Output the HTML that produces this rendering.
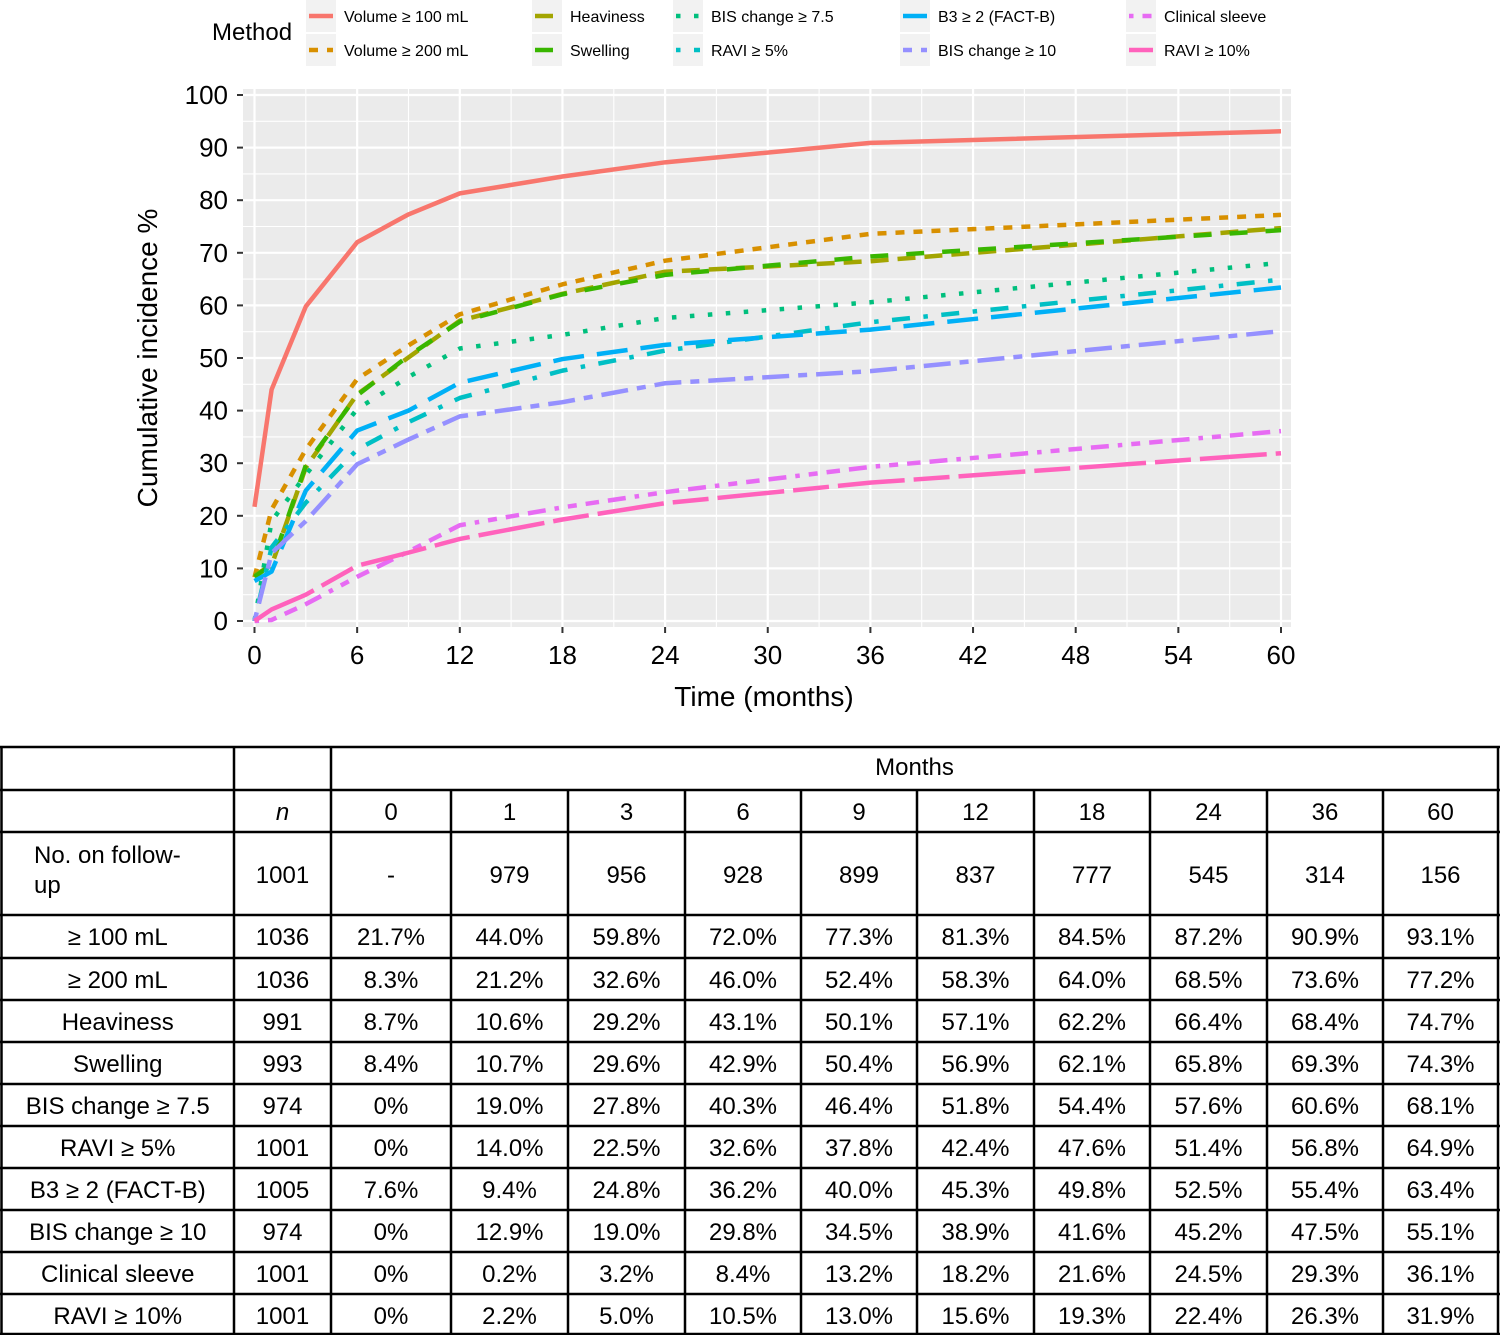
<!DOCTYPE html>
<html><head><meta charset="utf-8"><style>
html,body{margin:0;padding:0;background:#fff;}
svg text{font-family:"Liberation Sans",sans-serif;}
</style></head><body>
<svg id="chart" width="1500" height="1335" viewBox="0 0 1500 1335" xmlns="http://www.w3.org/2000/svg">
<g id="legend"></g>
<rect x="243" y="89" width="1048" height="538" fill="#ebebeb"/>
<g id="grid"></g>
<g id="axes"></g>
<g id="series"></g>
<g id="table"></g>
</svg>
<script>
const months = [0,1,3,6,9,12,18,24,36,60];
const methods = ["Volume ≥ 100 mL","Volume ≥ 200 mL","Heaviness","Swelling","BIS change ≥ 7.5","RAVI ≥ 5%","B3 ≥ 2 (FACT-B)","BIS change ≥ 10","Clinical sleeve","RAVI ≥ 10%"];
const rowLabels = ["≥ 100 mL","≥ 200 mL","Heaviness","Swelling","BIS change ≥ 7.5","RAVI ≥ 5%","B3 ≥ 2 (FACT-B)","BIS change ≥ 10","Clinical sleeve","RAVI ≥ 10%"];
const nValues = [1036,1036,991,993,974,1001,1005,974,1001,1001];
const followUp = ["-",979,956,928,899,837,777,545,314,156];
const vol100 = [21.7,44.0,59.8,72.0,77.3,81.3,84.5,87.2,90.9,93.1];
const vol200 = [8.3,21.2,32.6,46.0,52.4,58.3,64.0,68.5,73.6,77.2];
const heaviness = [8.7,10.6,29.2,43.1,50.1,57.1,62.2,66.4,68.4,74.7];
const swelling = [8.4,10.7,29.6,42.9,50.4,56.9,62.1,65.8,69.3,74.3];
const bis75 = [0,19.0,27.8,40.3,46.4,51.8,54.4,57.6,60.6,68.1];
const ravi5 = [0,14.0,22.5,32.6,37.8,42.4,47.6,51.4,56.8,64.9];
const b3 = [7.6,9.4,24.8,36.2,40.0,45.3,49.8,52.5,55.4,63.4];
const bis10 = [0,12.9,19.0,29.8,34.5,38.9,41.6,45.2,47.5,55.1];
const sleeve = [0,0.2,3.2,8.4,13.2,18.2,21.6,24.5,29.3,36.1];
const ravi10 = [0,2.2,5.0,10.5,13.0,15.6,19.3,22.4,26.3,31.9];
const seriesValues = [vol100,vol200,heaviness,swelling,bis75,ravi5,b3,bis10,sleeve,ravi10];
const xTicks = [0,6,12,18,24,30,36,42,48,54,60];
const yTicks = [0,10,20,30,40,50,60,70,80,90,100];

const colors = ["#F8766D","#D89000","#A3A500","#39B600","#00BF7D","#00BFC4","#00B0F6","#9590FF","#E76BF3","#FF62BC"];
const dashes = ["","9 9","18 9","18 18","4.5 13.5","4.5 13.5 18 13.5","31 13","9 9 27 9","4.5 9 9 9 13.5 9 18 9","67 9 36 9"];
const keys = ["vol100","vol200","heaviness","swelling","bis75","ravi5","b3","bis10","sleeve","ravi10"];

const NS="http://www.w3.org/2000/svg";
function mk(tag, attrs, parent, text){const e=document.createElementNS(NS,tag);for(const k in attrs)e.setAttribute(k,attrs[k]);if(text!==undefined)e.textContent=text;parent.appendChild(e);return e;}
const X = m => 254.5 + m*(1281-254.5)/60;
const Y = v => 621 - v*(621-95)/100;

const grid=document.getElementById('grid');
for(let i=0;i<xTicks.length;i++){
  mk('line',{x1:X(xTicks[i]),x2:X(xTicks[i]),y1:89,y2:627,stroke:'#fff','stroke-width':2.2},grid);
  if(i<xTicks.length-1){const m=(xTicks[i]+xTicks[i+1])/2;mk('line',{x1:X(m),x2:X(m),y1:89,y2:627,stroke:'#fff','stroke-width':1.1},grid);}
}
for(let i=0;i<yTicks.length;i++){
  mk('line',{x1:243,x2:1291,y1:Y(yTicks[i]),y2:Y(yTicks[i]),stroke:'#fff','stroke-width':2.2},grid);
  if(i<yTicks.length-1){const v=(yTicks[i]+yTicks[i+1])/2;mk('line',{x1:243,x2:1291,y1:Y(v),y2:Y(v),stroke:'#fff','stroke-width':1.1},grid);}
}
const axes=document.getElementById('axes');
xTicks.forEach(t=>{
  mk('line',{x1:X(t),x2:X(t),y1:627,y2:633,stroke:'#333','stroke-width':2},axes);
  const e=mk('text',{x:X(t),y:664,'text-anchor':'middle','font-size':26,fill:'#000'},axes,t);
  
  
});
yTicks.forEach(t=>{
  mk('line',{x1:237,x2:243,y1:Y(t),y2:Y(t),stroke:'#333','stroke-width':2},axes);
  const e=mk('text',{x:228,y:Y(t)+9,'text-anchor':'end','font-size':26,fill:'#000'},axes,t);
  
  
});
let xt=mk('text',{x:764,y:706,'text-anchor':'middle','font-size':28,fill:'#000'},axes,'Time (months)');


let yt=mk('text',{x:157,y:358,'text-anchor':'middle','font-size':28,fill:'#000',transform:'rotate(-90 157 358)'},axes,'Cumulative incidence %');



const sg=document.getElementById('series');
seriesValues.forEach((vals,i)=>{
  const pts=vals.map((v,j)=>X(months[j])+','+Y(v)).join(' ');
  const a={points:pts,fill:'none',stroke:colors[i],'stroke-width':4.5,'stroke-linejoin':'round'};
  if(dashes[i])a['stroke-dasharray']=dashes[i];
  const p=mk('polyline',a,sg);
  
  
});

// legend
const lg=document.getElementById('legend');
mk('text',{x:212,y:40,'font-size':24,fill:'#000'},lg,'Method');
const legX=[306,532,673,900,1126];
methods.forEach((m,i)=>{
  const col=Math.floor(i/2), row=i%2;
  const x=legX[col], y=row?34:0;
  mk('rect',{x:x,y:y,width:30,height:32,fill:'#f2f2f2'},lg);
  const a={x1:x+3,x2:x+27,y1:y+16,y2:y+16,stroke:colors[i],'stroke-width':4.5};
  if(dashes[i])a['stroke-dasharray']=dashes[i];
  mk('line',a,lg);
  const t=mk('text',{x:x+38,y:y+22,'font-size':16,fill:'#000'},lg,m);
  
  
});

// table
const tb=document.getElementById('table');
const cx=[1.5,234,331,451,568,685,801,917,1034,1150,1267,1383,1498];
const ry=[747,790,832,915,958,1000,1042,1084,1126,1168,1210,1252,1294,1334];
const T=(x,y,s,extra)=>{const e=mk('text',Object.assign({x:x,y:y,'text-anchor':'middle','font-size':24,fill:'#000'},extra||{}),tb,s);return e;};
// horizontal lines
ry.forEach((y,i)=>{mk('line',{x1:0,x2:1500,y1:y,y2:y,stroke:'#000','stroke-width':2.5},tb);});
// vertical lines
cx.forEach((x,i)=>{
  const y1 = (i>=3 && i<=11)? ry[1] : ry[0];
  mk('line',{x1:x,x2:x,y1:y1,y2:1335,stroke:'#000','stroke-width':2.5},tb);
});
const mid=(a,b)=>(a+b)/2;
T(mid(cx[2],cx[12]),ry[0]+28,'Months');
T(mid(cx[1],cx[2]),ry[1]+30,'n',{'font-style':'italic'});
months.forEach((m,j)=>T(mid(cx[j+2],cx[j+3]),ry[1]+30,m));
T(34,ry[2]+31,'No.  on  follow-',{'text-anchor':'start'});
T(34,ry[2]+61,'up',{'text-anchor':'start'});
T(mid(cx[1],cx[2]),ry[2]+51,1001);
followUp.forEach((v,j)=>T(mid(cx[j+2],cx[j+3]),ry[2]+51,v));
rowLabels.forEach((l,i)=>{
  const y=ry[i+3]+30;
  T(mid(cx[0],cx[1]),y,l);
  T(mid(cx[1],cx[2]),y,nValues[i]);
  seriesValues[i].forEach((v,j)=>T(mid(cx[j+2],cx[j+3]),y,(v===0?'0':v.toFixed(1))+'%'));
});
</script>
</body></html>
